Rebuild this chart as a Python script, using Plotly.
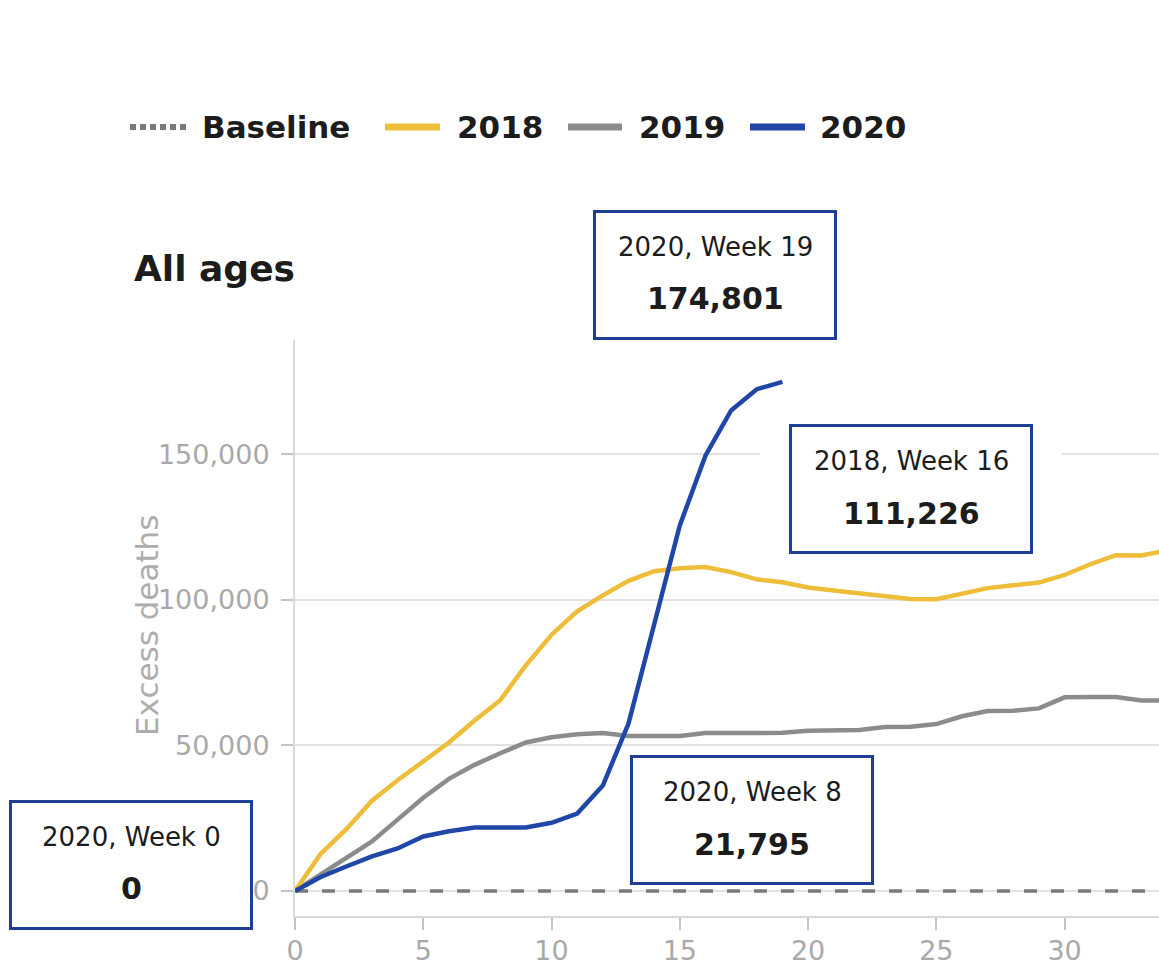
import plotly.graph_objects as go

# ---------------- data ----------------
weeks_2018 = list(range(0, 35))
excess_2018 = [0, 12700, 21200, 31000, 38000, 44500, 51000, 58500, 65500, 77500,
               88000, 96000, 101500, 106500, 109800, 110800, 111226, 109500, 107000, 106000,
               104200, 103200, 102300, 101300, 100300, 100200, 102200, 104000, 105000, 105900,
               108500, 112200, 115300, 115200, 117000]

weeks_2019 = list(range(0, 35))
excess_2019 = [0, 5800, 11500, 17000, 24500, 32000, 38500, 43300, 47300, 51000,
               52800, 53800, 54200, 53200, 53200, 53200, 54200, 54200, 54200, 54300,
               55000, 55200, 55300, 56300, 56400, 57300, 60000, 61800, 61900, 62700,
               66500, 66600, 66600, 65400, 65400]

weeks_2020 = list(range(0, 20))
excess_2020 = [0, 4800, 8400, 11900, 14600, 18700, 20500, 21800, 21795, 21800,
               23400, 26600, 36200, 57500, 91500, 125500, 149500, 165000, 172300, 174801]

baseline_weeks = [0, 34]
baseline_values = [0, 0]

series_names = ["Baseline", "2018", "2019", "2020"]
y_ticks = [0, 50000, 100000, 150000]
x_ticks = [0, 5, 10, 15, 20, 25, 30]
chart_title = "All ages"
y_title = "Excess deaths"

# callouts: (year, week)
callouts = [("2020", 19), ("2018", 16), ("2020", 8), ("2020", 0)]

# ---------------- style ----------------
FONT = "DejaVu Sans"
C2018 = "#EEBD3A"
C2019 = "#8C8C8C"
C2020 = "#2047A8"
CBASE = "#7A7A7A"
BOX = "#1F3F96"
GRID = "#E2E2E2"
TICKTXT = "#A9A9A9"
DARK = "#1C1C1C"

W, H = 1159, 971
L, R, T, B = 295, 0, 340, 55
PW, PH = W - L - R, H - T - B


def px_x(px):
    return (px - L) / PW


def px_y(py):
    return (H - B - py) / PH


fig = go.Figure()

fig.add_trace(go.Scatter(x=baseline_weeks, y=baseline_values, mode="lines",
                         line=dict(color=CBASE, width=3.5, dash="13px,14px"),
                         name=series_names[0], hoverinfo="skip"))
fig.add_trace(go.Scatter(x=weeks_2019, y=excess_2019, mode="lines",
                         line=dict(color=C2019, width=4.5), name=series_names[2]))
fig.add_trace(go.Scatter(x=weeks_2018, y=excess_2018, mode="lines",
                         line=dict(color=C2018, width=4.5), name=series_names[1]))
fig.add_trace(go.Scatter(x=weeks_2020, y=excess_2020, mode="lines",
                         line=dict(color=C2020, width=4.5), name=series_names[3]))

lookup = {"2018": (weeks_2018, excess_2018), "2019": (weeks_2019, excess_2019),
          "2020": (weeks_2020, excess_2020)}

# box center offsets from anchored point (pixels, +y up)
offsets = [(-67, 107), (206, 78), (252, 7), (-164, 26)]

annotations = []
for (year, wk), (dx, dy) in zip(callouts, offsets):
    xs, ys = lookup[year]
    val = ys[xs.index(wk)]
    if (year, wk) == ("2018", 16):
        annotations.append(dict(x=wk, y=val, xref="x", yref="y", showarrow=False,
                                text=" ", width=300, height=124, bgcolor="white",
                                borderwidth=0, xshift=dx, yshift=dy))
    annotations.append(dict(x=wk, y=val, xref="x", yref="y", showarrow=False,
                            text=" ", width=238, height=124, bgcolor="white",
                            bordercolor=BOX, borderwidth=3, borderpad=0,
                            xshift=dx, yshift=dy))
    annotations.append(dict(x=wk, y=val, xref="x", yref="y", showarrow=False,
                            text=f"{year}, Week {wk}",
                            font=dict(family=FONT, size=26, color=DARK),
                            xshift=dx, yshift=dy + 28))
    annotations.append(dict(x=wk, y=val, xref="x", yref="y", showarrow=False,
                            text=f"<b>{val:,}</b>",
                            font=dict(family=FONT, size=30, color=DARK),
                            xshift=dx, yshift=dy - 24))

# title
annotations.append(dict(x=px_x(132), y=px_y(268), xref="paper", yref="paper",
                        xanchor="left", yanchor="middle", showarrow=False,
                        text=f"<b>{chart_title}</b>",
                        font=dict(family=FONT, size=36, color=DARK)))

# y-axis title
annotations.append(dict(x=px_x(147), y=px_y(626), xref="paper", yref="paper",
                        xanchor="center", yanchor="middle", showarrow=False,
                        textangle=-90, text=y_title,
                        font=dict(family=FONT, size=31, color="#ADADAD")))

# custom legend
leg_y = px_y(127)
leg_line = [(130, 188), (385, 440), (568, 622), (750, 805)]
leg_text = [200, 455, 637, 818]
leg_colors = [CBASE, C2018, C2019, C2020]
shapes = []
for i, name in enumerate(series_names):
    x0, x1 = leg_line[i]
    shapes.append(dict(type="line", xref="paper", yref="paper",
                       x0=px_x(x0), x1=px_x(x1), y0=leg_y, y1=leg_y,
                       line=dict(color=leg_colors[i], width=6 if i == 0 else 7,
                                 dash="6px,4px" if i == 0 else "solid")))
    annotations.append(dict(x=px_x(leg_text[i]), y=leg_y, xref="paper", yref="paper",
                            xanchor="left", yanchor="middle", showarrow=False,
                            text=f"<b>{name}</b>",
                            font=dict(family=FONT, size=31, color=DARK)))

fig.update_layout(
    width=W, height=H,
    margin=dict(l=L, r=R, t=T, b=B, autoexpand=False),
    paper_bgcolor="white", plot_bgcolor="white",
    showlegend=False,
    font=dict(family=FONT, color=DARK),
    annotations=annotations,
    shapes=shapes,
    xaxis=dict(range=[0, 33.68], tickvals=x_ticks, showgrid=False, zeroline=False,
               showline=True, linecolor="#DADADA", linewidth=2,
               ticks="outside", ticklen=12, tickwidth=2, tickcolor="#C4C4C4",
               tickfont=dict(family=FONT, size=27, color=TICKTXT),
               ticklabelstandoff=-2),
    yaxis=dict(range=[-8600, 189200], tickvals=y_ticks, tickformat=",",
               showgrid=True, gridcolor=GRID, gridwidth=2, zeroline=False,
               showline=True, linecolor="#DADADA", linewidth=2,
               ticks="outside", ticklen=12, tickwidth=2, tickcolor="#C4C4C4",
               tickfont=dict(family=FONT, size=27, color=TICKTXT),
               ticklabelstandoff=6),
)

fig.write_html("out.html", config={"displayModeBar": False},
               post_script="document.body.style.margin='0';document.body.style.overflow='hidden';")
